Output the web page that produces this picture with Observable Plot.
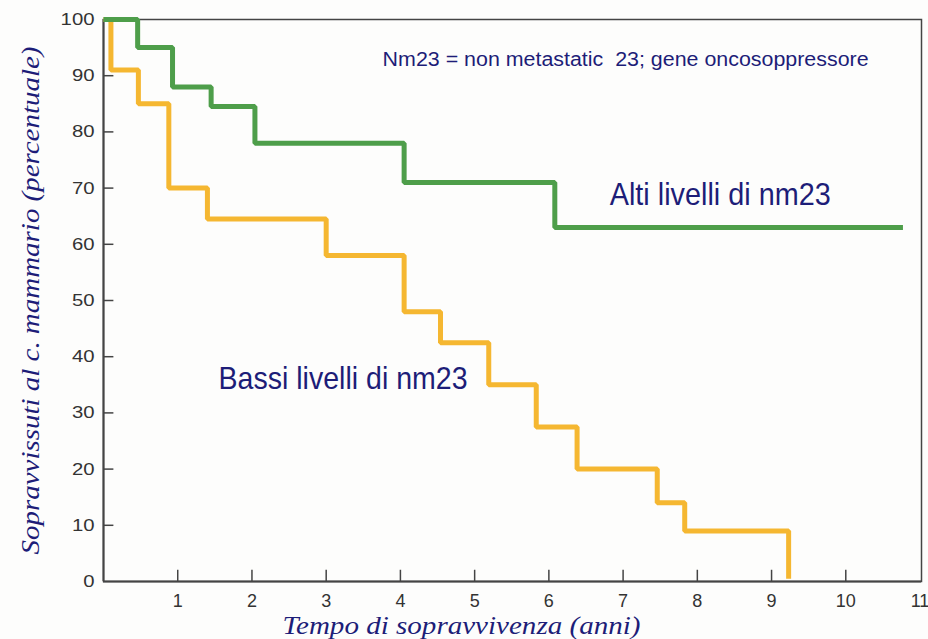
<!DOCTYPE html>
<html>
<head>
<meta charset="utf-8">
<script src="https://cdn.jsdelivr.net/npm/d3@7"></script>
<script src="https://cdn.jsdelivr.net/npm/@observablehq/plot@0.6"></script>
<style>
  html, body { margin: 0; padding: 0; background: #fdfdfc; }
  #chart svg { display: block; }
</style>
</head>
<body>
<div id="chart"></div>
<script>
// Survival curves (Kaplan–Meier style)
const altiTime  = [0, 0.46, 0.93, 1.45, 2.04, 4.05, 6.08, 10.77];
const altiSurv  = [100, 95, 88, 84.5, 78, 71, 63, 63];
const bassiTime = [0, 0.10, 0.47, 0.88, 1.40, 3.00, 4.05, 4.54, 5.19, 5.83, 6.38, 7.46, 7.83, 9.23];
const bassiSurv = [100, 91, 85, 70, 64.5, 58, 48, 42.5, 35, 27.5, 20, 14, 9, 0.5];

const xTicks = [1, 2, 3, 4, 5, 6, 7, 8, 9, 10, 11];
const xTickMarks = [1, 2, 3, 4, 5, 6, 7, 8, 9, 10];
const yTicks = [0, 10, 20, 30, 40, 50, 60, 70, 80, 90, 100];

const xLabel = "Tempo di sopravvivenza (anni)";
const yLabel = "Sopravvissuti al c. mammario (percentuale)";
const noteText = "Nm23 = non metastatic  23; gene oncosoppressore";
const altiText = "Alti livelli di nm23";
const bassiText = "Bassi livelli di nm23";

const alti = altiTime.map((t, i) => ({t, s: altiSurv[i]}));
const bassi = bassiTime.map((t, i) => ({t, s: bassiSurv[i]}));

const navy = "#1d1d78";
const sans = "Liberation Sans, Arial, sans-serif";
const serif = "Liberation Serif, Times New Roman, serif";

const chart = Plot.plot({
  width: 928,
  height: 639,
  marginLeft: 103,
  marginRight: 7,
  marginTop: 19,
  marginBottom: 58,
  style: {background: "#fdfdfc", fontFamily: sans},
  x: {domain: [0, 11.02]},
  y: {domain: [0, 100]},
  marks: [
    Plot.axisX(xTicks, {tickSize: 0, tickPadding: 13, fontSize: 18, fill: "#333", label: null}),
    Plot.axisY(yTicks, {tickSize: 0, tickPadding: 9, fontSize: 17, fill: "#333", label: null}),
    Plot.ruleX(xTickMarks, {y1: 0, y2: 2, stroke: "#444", strokeWidth: 1.5}),
    Plot.ruleY(yTicks.filter(d => d > 0 && d < 100), {x1: 0, x2: 0.14, stroke: "#444", strokeWidth: 1.5}),
    Plot.frame({stroke: "#444", strokeWidth: 1.5}),
    Plot.ruleX([0], {stroke: "#444", strokeWidth: 2}),
    Plot.ruleY([0], {stroke: "#444", strokeWidth: 2}),
    Plot.line(bassi, {x: "t", y: "s", curve: "step-after", stroke: "#f5b731", strokeWidth: 5, strokeLinejoin: "miter", strokeLinecap: "butt"}),
    Plot.line(alti, {x: "t", y: "s", curve: "step-after", stroke: "#4e9e4a", strokeWidth: 5, strokeLinejoin: "miter", strokeLinecap: "butt"}),
    Plot.text([noteText], {x: 3.76, y: 92.9, text: d => d, textAnchor: "start", fontSize: 20, fill: navy, fontFamily: sans}),
    Plot.text([altiText], {x: 6.82, y: 68.9, text: d => d, textAnchor: "start", fontSize: 32, fill: navy, fontFamily: sans}),
    Plot.text([bassiText], {x: 1.55, y: 36.1, text: d => d, textAnchor: "start", fontSize: 32, fill: navy, fontFamily: sans}),
    Plot.text([xLabel], {frameAnchor: "bottom", textAnchor: "middle", lineAnchor: "bottom", dx: -51, dy: 52, text: d => d, fontSize: 26, fontStyle: "italic", fill: navy, fontFamily: serif}),
    Plot.text([yLabel], {frameAnchor: "left", textAnchor: "middle", lineAnchor: "middle", dx: -73, rotate: -90, text: d => d, fontSize: 26, fontStyle: "italic", fill: navy, fontFamily: serif})
  ]
});

document.getElementById("chart").appendChild(chart);

// y tick labels are drawn wide in the reference
chart.querySelectorAll("g[aria-label='y-axis tick label'] text").forEach(t => {
  t.setAttribute("textLength", String(t.textContent.length * 11.3));
  t.setAttribute("lengthAdjust", "spacingAndGlyphs");
});

// condense annotation texts to match the narrow lettering
const lengths = new Map([[noteText, 486], [altiText, 221], [bassiText, 249], [xLabel, 358], [yLabel, 508]]);
chart.querySelectorAll("text").forEach(t => {
  const L = lengths.get(t.textContent);
  if (L) {
    t.setAttribute("textLength", String(L));
    t.setAttribute("lengthAdjust", "spacingAndGlyphs");
  }
});
</script>
</body>
</html>
